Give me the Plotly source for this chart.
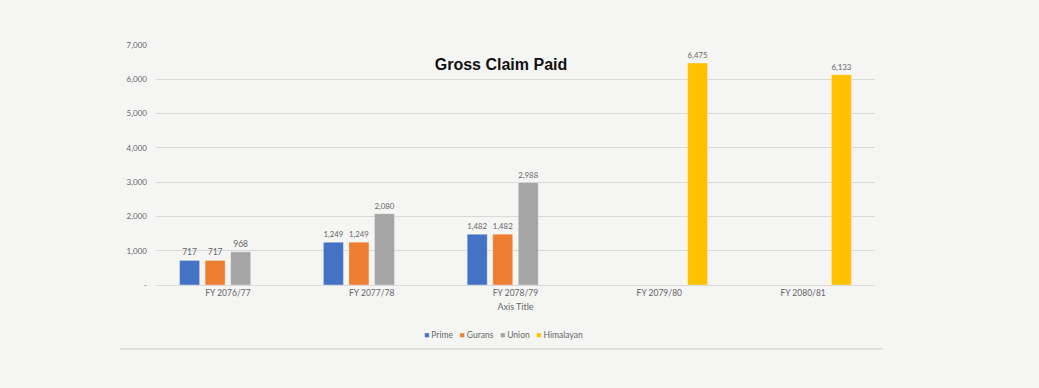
import plotly.graph_objects as go

categories = ["FY 2076/77", "FY 2077/78", "FY 2078/79", "FY 2079/80", "FY 2080/81"]
prime = [717, 1249, 1482, None, None]
gurans = [717, 1249, 1482, None, None]
union = [968, 2080, 2988, None, None]
himalayan = [None, None, None, 6475, 6133]

series_names = ["Prime", "Gurans", "Union", "Himalayan"]
series_values = [prime, gurans, union, himalayan]
series_colors = ["#4472C4", "#ED7D31", "#A5A5A5", "#FFC000"]

y_ticks = [0, 1000, 2000, 3000, 4000, 5000, 6000, 7000]
y_ticktext = ["-", "1,000", "2,000", "3,000", "4,000", "5,000", "6,000", "7,000"]

W, H = 1039, 388
L, R, T, B = 156, 164, 45, 103
BG = "#f5f5f4"

fig = go.Figure()
for name, vals, col in zip(series_names, series_values, series_colors):
    fig.add_trace(go.Bar(
        x=categories, y=vals, name=name,
        marker=dict(color=col, line=dict(color="rgba(255,255,255,0.6)", width=0.6)),
        texttemplate="%{y:,}", textposition="outside",
        textfont=dict(family="Lato", size=8.5, color="#666666"),
        cliponaxis=False, showlegend=False,
    ))

fig.update_layout(
    width=W, height=H,
    margin=dict(l=L, r=R, t=T, b=B),
    paper_bgcolor=BG, plot_bgcolor="rgba(0,0,0,0)",
    barmode="group", bargap=0.29, bargroupgap=0.215,
    font=dict(family="Lato", color="#666666"),
    title=dict(text="<b>Gross Claim Paid</b>", x=501 / W, xanchor="center",
               y=1 - 64 / H, yanchor="middle", xref="container", yref="container",
               font=dict(family="Liberation Sans", size=16, color="#111111")),
    xaxis=dict(showgrid=False, showline=True, linecolor="#d9d9d9", linewidth=1,
               ticks="", tickfont=dict(family="Lato", size=8.5, color="#666666"),
               title=dict(text="Axis Title", standoff=6,
                          font=dict(family="Lato", size=9, color="#666666"))),
    yaxis=dict(range=[0, 7000], tickvals=y_ticks, ticktext=y_ticktext,
               showgrid=True, gridcolor="#d9d9d9", gridwidth=1, zeroline=False,
               showline=False, ticks="", ticklabelstandoff=8,
               tickfont=dict(family="Lato", size=8, color="#666666")),
)

# legend drawn as a single centered text row
legend_parts = []
for name, col in zip(series_names, series_colors):
    legend_parts.append(f'<span style="color:{col}">■</span>&nbsp;<span style="color:#666666">{name}</span>')
fig.add_annotation(
    text="&nbsp;&nbsp;&nbsp;".join(legend_parts), xref="paper", yref="paper",
    x=(503 - L) / (W - L - R), y=-(335 - (H - B)) / (H - T - B),
    xanchor="center", yanchor="middle", showarrow=False,
    font=dict(family="Lato", size=8.5, color="#666666"),
)

# separator line under the chart
fig.add_shape(type="line", xref="paper", yref="paper",
              x0=(120 - L) / (W - L - R), x1=(883 - L) / (W - L - R),
              y0=-(349 - (H - B)) / (H - T - B), y1=-(349 - (H - B)) / (H - T - B),
              line=dict(color="#d9d9d9", width=1.5))

fig.write_html(
    "out.html",
    config={"displayModeBar": False},
    post_script=f"document.body.style.margin='0';document.body.style.padding='0';document.body.style.background='{BG}';",
)
